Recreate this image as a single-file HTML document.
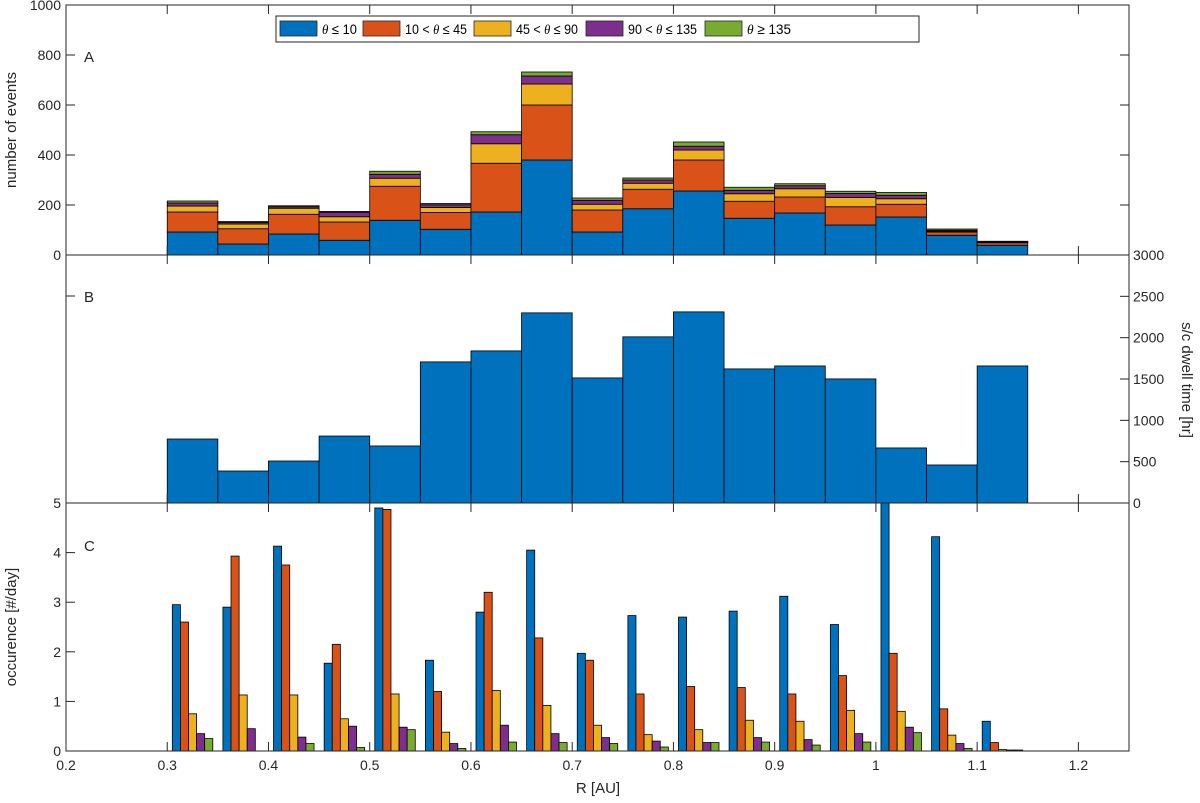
<!DOCTYPE html>
<html><head><meta charset="utf-8"><style>
html,body{margin:0;padding:0;background:#fff}
svg{display:block;font-family:"Liberation Sans",sans-serif}
</style></head><body>
<svg id="c" width="1200" height="803" viewBox="0 0 1200 803"></svg>
<script>
const binEdgesStart = [0.30,0.35,0.40,0.45,0.50,0.55,0.60,0.65,0.70,0.75,0.80,0.85,0.90,0.95,1.00,1.05,1.10];
const seriesNames = ["θ ≤ 10","10 < θ ≤ 45","45 < θ ≤ 90","90 < θ ≤ 135","θ ≥ 135"];
const evBlue   = [92,44,84,59,139,103,172,380,92,185,256,147,168,120,152,79,39];
const evOrange = [80,61,79,73,136,67,195,220,88,78,124,68,64,73,51,13,10];
const evYellow = [24,19,24,21,32,20,78,84,23,24,40,30,33,37,22,3,2];
const evPurple = [12,6,6,18,16,11,36,32,16,13,15,14,12,16,14,4,2];
const evGreen  = [8,4,4,3,12,5,12,16,9,8,17,12,8,9,11,5,2];
const dwell = [774,387,508,810,690,1707,1840,2300,1513,2010,2312,1622,1658,1501,666,460,1658];
const occBlue   = [2.95,2.9,4.13,1.77,4.9,1.83,2.8,4.05,1.97,2.73,2.7,2.82,3.12,2.55,5.4,4.32,0.6];
const occOrange = [2.6,3.93,3.75,2.15,4.87,1.2,3.2,2.28,1.83,1.15,1.3,1.28,1.15,1.52,1.97,0.85,0.17];
const occYellow = [0.75,1.13,1.13,0.65,1.15,0.38,1.22,0.92,0.52,0.33,0.43,0.62,0.6,0.82,0.8,0.32,0.03];
const occPurple = [0.35,0.45,0.28,0.5,0.48,0.15,0.52,0.35,0.27,0.2,0.17,0.27,0.23,0.35,0.48,0.15,0.02];
const occGreen  = [0.25,0,0.15,0.07,0.43,0.05,0.18,0.17,0.15,0.08,0.17,0.18,0.12,0.18,0.37,0.05,0.02];
const xTicks = [0.2,0.3,0.4,0.5,0.6,0.7,0.8,0.9,1.0,1.1,1.2];
const xTickLabels = ["0.2","0.3","0.4","0.5","0.6","0.7","0.8","0.9","1","1.1","1.2"];
const aTicks = [0,200,400,600,800,1000];
const bTicks = [0,500,1000,1500,2000,2500,3000];
const cTicks = [0,1,2,3,4,5];

const colors = ["#0072BD","#D95319","#EDB120","#7E2F8E","#77AC30"];
const NS = "http://www.w3.org/2000/svg";
const svg = document.getElementById('c');
const L=66, R=1129;
const xs = v => L + (v-0.2)/(1.05)*(R-L);
const yA = v => 255 - v*0.25;
const yB = v => 503 - v*(248/3000);
const yC = v => 751 - v*(248/5);
function mk(tag, attrs, parent){const e=document.createElementNS(NS,tag);for(const k in attrs)e.setAttribute(k,attrs[k]);(parent||svg).appendChild(e);return e;}
function txt(s,x,y,attrs){const e=mk('text',Object.assign({x:x,y:y,'font-size':14,fill:'#262626'},attrs||{}));e.textContent=s;return e;}

const defs = mk('defs',{});
const cp = mk('clipPath',{id:'clipC'},defs);
mk('rect',{x:L,y:503,width:R-L,height:248},cp);

const gA = mk('g',{});


const stacks=[evBlue,evOrange,evYellow,evPurple,evGreen];
binEdgesStart.forEach((b,i)=>{
  let cum=0;
  stacks.forEach((s,k)=>{
    const v=s[i]; const y0=yA(cum), y1=yA(cum+v);
    const r=mk('rect',{x:xs(b),y:y1,width:xs(b+0.05)-xs(b),height:y0-y1,fill:colors[k],stroke:'#000','stroke-width':0.8},gA);
    
    
    cum+=v;
  });
});
const gB = mk('g',{});


binEdgesStart.forEach((b,i)=>{
  const r=mk('rect',{x:xs(b),y:yB(dwell[i]),width:xs(b+0.05)-xs(b),height:503-yB(dwell[i]),fill:colors[0],stroke:'#000','stroke-width':0.8},gB);
  
  
});
const gC = mk('g',{'clip-path':'url(#clipC)'});


const occ=[occBlue,occOrange,occYellow,occPurple,occGreen];
binEdgesStart.forEach((b,i)=>{
  const center=b+0.025, gw=0.8*0.05, bw=gw/5;
  occ.forEach((s,k)=>{
    const x0=center-gw/2+k*bw;
    const v=s[i];
    const r=mk('rect',{x:xs(x0),y:yC(v),width:xs(x0+bw)-xs(x0),height:751-yC(v),fill:colors[k],stroke:'#000','stroke-width':0.8},gC);
    
    
  });
});

const ax = mk('g',{stroke:'#262626','stroke-width':1,fill:'none'});


[[5,255],[255,503],[503,751]].forEach(([t,bm])=>{
  mk('rect',{x:L,y:t,width:R-L,height:bm-t},ax);
  xTicks.forEach(v=>{mk('line',{x1:xs(v),x2:xs(v),y1:bm,y2:bm-9},ax);mk('line',{x1:xs(v),x2:xs(v),y1:t,y2:t+9},ax);});
});
aTicks.forEach(v=>{mk('line',{x1:L,x2:L+9,y1:yA(v),y2:yA(v)},ax);mk('line',{x1:R,x2:R-9,y1:yA(v),y2:yA(v)},ax);
  const t=txt(String(v),L-5,yA(v)+5,{'text-anchor':'end'});});
mk('line',{x1:L,x2:L+9,y1:296,y2:296},ax);
bTicks.forEach(v=>{mk('line',{x1:R,x2:R-9,y1:yB(v),y2:yB(v)},ax);
  const t=txt(String(v),R+4,yB(v)+5,{'text-anchor':'start'});});
cTicks.forEach(v=>{mk('line',{x1:L,x2:L+9,y1:yC(v),y2:yC(v)},ax);
  const t=txt(String(v),L-5,yC(v)+5,{'text-anchor':'end'});});
xTicks.forEach((v,i)=>{const t=txt(xTickLabels[i],xs(v),770,{'text-anchor':'middle'});});

let t;
t=txt('A',84,62,{'font-size':15});
t=txt('B',84,302,{'font-size':15});
t=txt('C',84,551,{'font-size':15});
t=txt('number of events',16,130,{'font-size':15,'text-anchor':'middle',transform:'rotate(-90 16 130)'});
t=txt('occurence [#/day]',16,627,{'font-size':15,'text-anchor':'middle',transform:'rotate(-90 16 627)'});
t=txt('s/c dwell time [hr]',1182,380,{'font-size':15,'text-anchor':'middle',transform:'rotate(90 1182 380)'});
t=txt('R [AU]',598,793,{'font-size':15,'text-anchor':'middle'});

const lg = mk('g',{});


mk('rect',{x:276,y:16,width:643,height:26,fill:'#fff',stroke:'#262626','stroke-width':1},lg);
const lx=[280,363,474,586,705];
const lw=[35,62,62,69,44];
seriesNames.forEach((n,k)=>{
  const e=mk('g',{},lg);
  
  
  mk('rect',{x:lx[k],y:21,width:37,height:15,fill:colors[k],stroke:'#262626','stroke-width':0.8},e);
  const tt=mk('text',{x:lx[k]+42,y:34,'font-size':14,fill:'#000',textLength:lw[k],lengthAdjust:'spacingAndGlyphs'},e);
  const parts=n.split('θ');
  tt.appendChild(document.createTextNode(parts[0]));
  const ts=mk('tspan',{'font-style':'italic','font-family':'"Liberation Serif",serif'},tt);ts.textContent='θ';
  tt.appendChild(document.createTextNode(parts[1]));
});
</script>
</body></html>
